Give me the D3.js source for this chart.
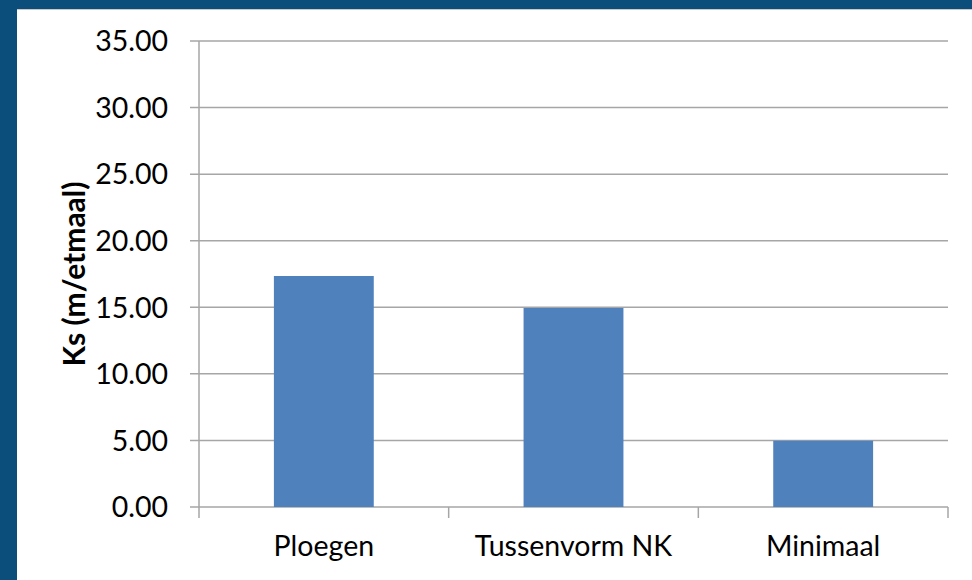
<!DOCTYPE html>
<html>
<head>
<meta charset="utf-8">
<script src="https://cdn.jsdelivr.net/npm/d3@7"></script>
<style>
  html, body { margin: 0; padding: 0; background: #0b4d7b; }
  svg { display: block; }
  text { font-family: Lato, "Open Sans", sans-serif; fill: #000; }
</style>
</head>
<body>
<div id="chart"></div>
<script>
// data
const categories = ["Ploegen", "Tussenvorm NK", "Minimaal"];
const values = [17.35, 14.95, 4.98];
const yTicks = [0, 5, 10, 15, 20, 25, 30, 35];
const yLabel = "Ks (m/etmaal)";

let width = 972, height = 580;
let margin = {top: 41, right: 24, bottom: 73, left: 199};

const svg = d3.select("#chart")
  .append("svg")
  .attr("width", width)
  .attr("height", height);

// dark frame + white panel
svg.append("rect")
  .attr("width", width).attr("height", height)
  .attr("fill", "#0b4d7b");
svg.append("rect")
  .attr("x", 17).attr("y", 9)
  .attr("width", width - 17).attr("height", height - 9)
  .attr("fill", "#fff");
svg.append("line")
  .attr("x1", 17).attr("x2", width)
  .attr("y1", 9.5).attr("y2", 9.5)
  .attr("stroke", "#c8c8c8");

const x = d3.scaleBand()
  .domain(categories)
  .range([margin.left, width - margin.right])
  .paddingInner(0.6)
  .paddingOuter(0.3);

const y = d3.scaleLinear()
  .domain([0, 35])
  .range([height - margin.bottom, margin.top]);

// grid lines
svg.append("g")
  .selectAll("line")
  .data(yTicks)
  .enter().append("line")
  .attr("x1", margin.left - 9)
  .attr("x2", width - margin.right)
  .attr("y1", d => y(d))
  .attr("y2", d => y(d))
  .attr("stroke", "#a6a6a6")
  .attr("stroke-width", 1.5);

// y axis line
svg.append("line")
  .attr("x1", margin.left).attr("x2", margin.left)
  .attr("y1", y(35)).attr("y2", y(0))
  .attr("stroke", "#a6a6a6")
  .attr("stroke-width", 1.5);

// bars
svg.append("g")
  .selectAll("rect")
  .data(values)
  .enter().append("rect")
  .attr("x", (d, i) => x(categories[i]))
  .attr("width", x.bandwidth())
  .attr("y", d => y(d))
  .attr("height", d => y(0) - y(d))
  .attr("fill", "#4f81bd");

// x axis with ticks between categories
const xAxis = d3.axisBottom(x).tickSize(0).tickPadding(0);
const gx = svg.append("g")
  .attr("transform", `translate(0,${y(0)})`)
  .call(xAxis);
gx.select(".domain").remove();
gx.selectAll("text")
  .attr("dy", null)
  .attr("y", 49)
  .attr("font-size", 28.5)
  .attr("font-family", "Lato, sans-serif");

const step = x.step();
const edges = d3.range(categories.length + 1).map(i => margin.left + i * step);
svg.append("g")
  .selectAll("line")
  .data(edges)
  .enter().append("line")
  .attr("x1", d => d).attr("x2", d => d)
  .attr("y1", y(0)).attr("y2", y(0) + 11)
  .attr("stroke", "#a6a6a6")
  .attr("stroke-width", 1.5);

// y tick labels
svg.append("g")
  .selectAll("text")
  .data(yTicks)
  .enter().append("text")
  .attr("x", 168)
  .attr("y", d => y(d))
  .attr("dy", "0.36em")
  .attr("text-anchor", "end")
  .attr("font-size", 28.5)
  .text(d3.format(".2f"));

// y axis title
svg.append("text")
  .attr("transform", `translate(85,${(y(0) + y(35)) / 2}) rotate(-90)`)
  .attr("text-anchor", "middle")
  .attr("font-size", 30)
  .attr("font-weight", "bold")
  .text(yLabel);
</script>
</body>
</html>
